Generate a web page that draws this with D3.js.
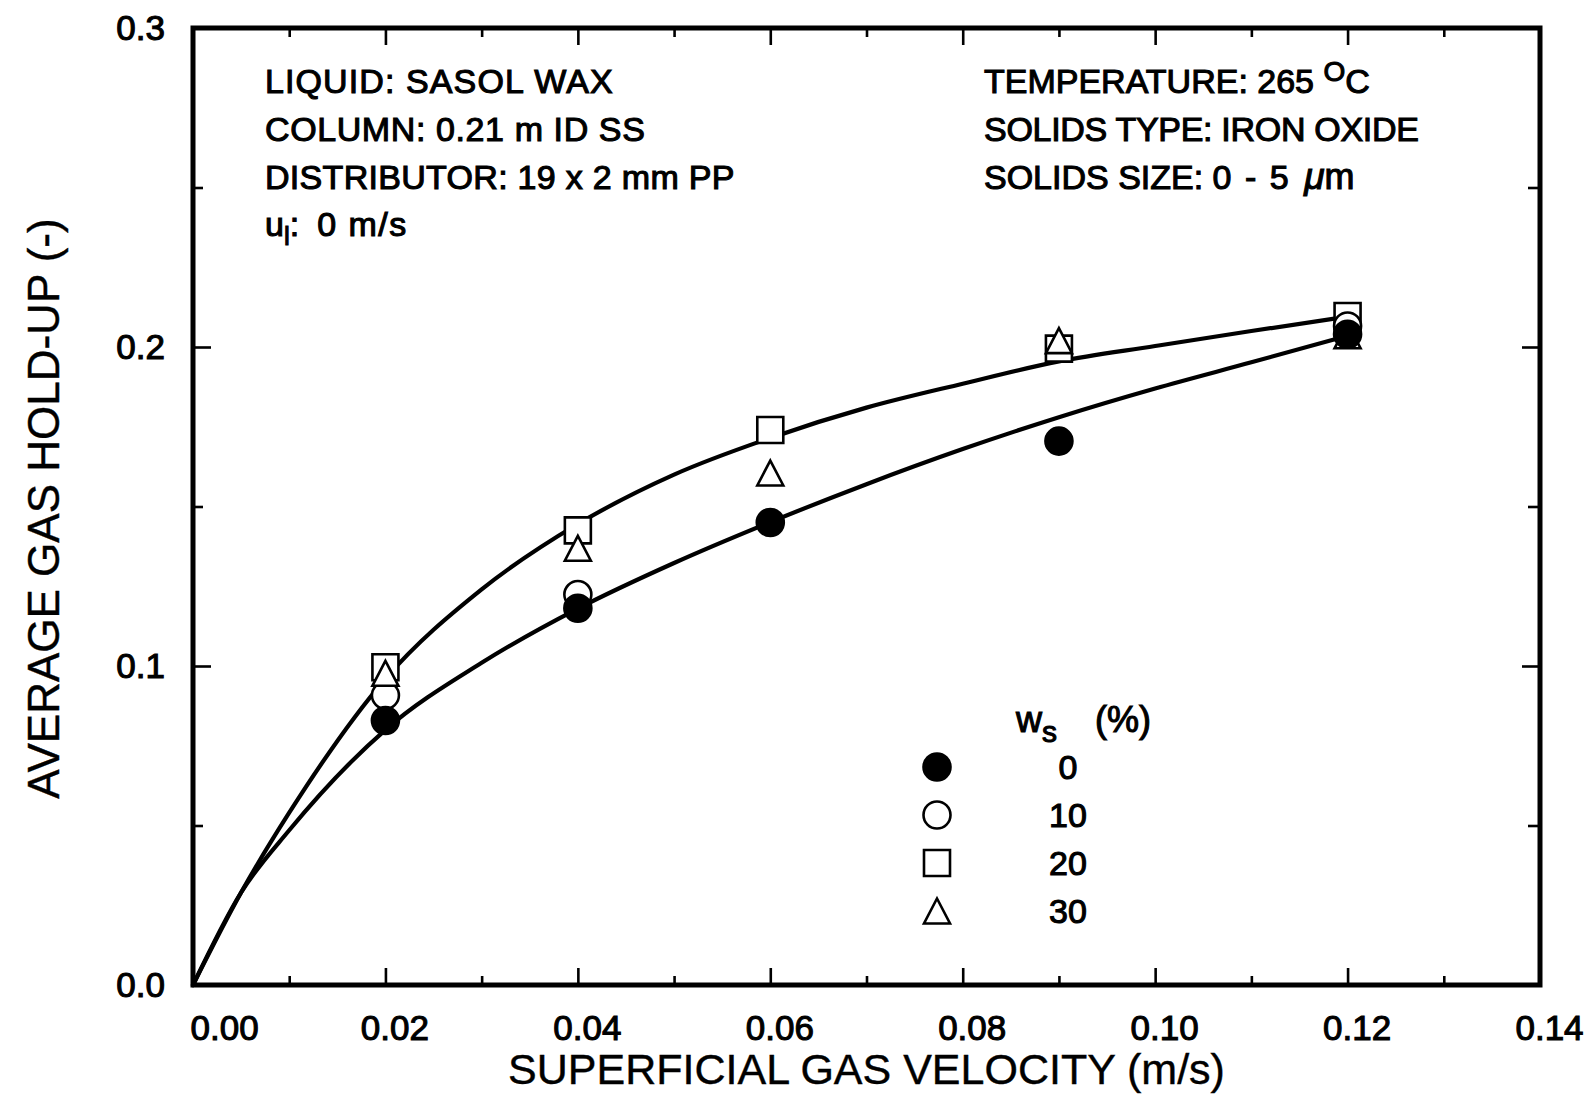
<!DOCTYPE html>
<html>
<head>
<meta charset="utf-8">
<script src="https://cdn.jsdelivr.net/npm/d3@7"></script>
<style>
  html, body { margin: 0; padding: 0; background: #fff; }
  svg { display: block; }
  text { font-family: "Liberation Sans", Arial, Helvetica, sans-serif; fill: #000; }
</style>
</head>
<body>
<svg id="chart" width="1585" height="1102"></svg>
<script>
// ---- data ----
const xTickValues = [0, 0.02, 0.04, 0.06, 0.08, 0.10, 0.12, 0.14];
const xTickLabels = ["0.00", "0.02", "0.04", "0.06", "0.08", "0.10", "0.12", "0.14"];
const xMinorTicks = [0.01, 0.03, 0.05, 0.07, 0.09, 0.11, 0.13];
const yTickValues = [0, 0.1, 0.2, 0.3];
const yTickLabels = ["0.0", "0.1", "0.2", "0.3"];
const yMinorTicks = [0.05, 0.15, 0.25];

const velocity = [0.02, 0.04, 0.06, 0.09, 0.12];
const holdup0 = [0.0829, 0.1181, 0.1450, 0.1705, 0.2040];   // ws = 0 %
const velocity10 = [0.02, 0.04, 0.12];
const holdup10 = [0.0908, 0.1224, 0.2066];                 // ws = 10 %
const holdup20 = [0.0996, 0.1425, 0.1740, 0.1995, 0.2097]; // ws = 20 %
const holdup30 = [0.0977, 0.1369, 0.1605, 0.2020, 0.2035]; // ws = 30 %

const curveX = [0, 0.005, 0.01, 0.02, 0.03, 0.04, 0.05, 0.06, 0.07, 0.08, 0.09, 0.10, 0.11, 0.12];
const upperCurveY = [0, 0.029, 0.054, 0.096, 0.124, 0.1445, 0.1600, 0.1715, 0.1810, 0.1885, 0.1955, 0.2003, 0.2050, 0.2095];
const lowerCurveY = [0, 0.029, 0.0485, 0.080, 0.101, 0.118, 0.1323, 0.1451, 0.157, 0.168, 0.178, 0.187, 0.1952, 0.2035];

const legendLabels = ["0", "10", "20", "30"];

// ---- layout ----
const svg = d3.select("#chart");
const plotLeft = 193, plotRight = 1540, plotTop = 28, plotBottom = 985;
const x = d3.scaleLinear().domain([0, 0.14]).range([plotLeft, plotRight]);
const y = d3.scaleLinear().domain([0, 0.3]).range([plotBottom, plotTop]);

const MAJOR = 17, MINOR = 9;
const tickFont = 35;
const heavy = 1.1;   // stroke added to glyphs for a heavier print weight

// custom isosceles triangle centred on its bounding box
const triangleType = {
  draw(ctx, size) {
    const w = Math.sqrt(size), h = w * 0.96;
    ctx.moveTo(0, -h / 2);
    ctx.lineTo(w / 2, h / 2);
    ctx.lineTo(-w / 2, h / 2);
    ctx.closePath();
  }
};

// ---- axes ----
function styleAxis(g) {
  g.select(".domain").remove();
  g.selectAll(".tick line").attr("stroke", "#000").attr("stroke-width", 2.6);
}

// bottom
const gx = svg.append("g").attr("transform", `translate(0,${plotBottom})`)
  .call(d3.axisBottom(x).tickValues(xTickValues)
    .tickFormat((d, i) => xTickLabels[i]).tickSizeInner(-MAJOR).tickSizeOuter(0).tickPadding(30))
  .call(styleAxis);
gx.selectAll(".tick text")
  .attr("font-size", tickFont).attr("font-family", "Liberation Sans, Arial, sans-serif")
  .attr("fill", "#000").attr("stroke", "#000").attr("stroke-width", heavy)
  .attr("dx", 9)
  .filter((d, i) => i === 0).attr("text-anchor", "start").attr("dx", -3);
svg.append("g").attr("transform", `translate(0,${plotBottom})`)
  .call(d3.axisBottom(x).tickValues(xMinorTicks).tickFormat("").tickSizeInner(-MINOR).tickSizeOuter(0))
  .call(styleAxis);

// top
svg.append("g").attr("transform", `translate(0,${plotTop})`)
  .call(d3.axisTop(x).tickValues(xTickValues).tickFormat("").tickSizeInner(-MAJOR).tickSizeOuter(0))
  .call(styleAxis);
svg.append("g").attr("transform", `translate(0,${plotTop})`)
  .call(d3.axisTop(x).tickValues(xMinorTicks).tickFormat("").tickSizeInner(-MINOR).tickSizeOuter(0))
  .call(styleAxis);

// left
const gy = svg.append("g").attr("transform", `translate(${plotLeft},0)`)
  .call(d3.axisLeft(y).tickValues(yTickValues)
    .tickFormat((d, i) => yTickLabels[i]).tickSizeInner(-18).tickSizeOuter(0).tickPadding(28))
  .call(styleAxis);
gy.selectAll(".tick text")
  .attr("font-size", tickFont).attr("font-family", "Liberation Sans, Arial, sans-serif")
  .attr("fill", "#000").attr("stroke", "#000").attr("stroke-width", heavy);
svg.append("g").attr("transform", `translate(${plotLeft},0)`)
  .call(d3.axisLeft(y).tickValues(yMinorTicks).tickFormat("").tickSizeInner(-10).tickSizeOuter(0))
  .call(styleAxis);

// right
svg.append("g").attr("transform", `translate(${plotRight},0)`)
  .call(d3.axisRight(y).tickValues(yTickValues).tickFormat("").tickSizeInner(-18).tickSizeOuter(0))
  .call(styleAxis);
svg.append("g").attr("transform", `translate(${plotRight},0)`)
  .call(d3.axisRight(y).tickValues(yMinorTicks).tickFormat("").tickSizeInner(-12).tickSizeOuter(0))
  .call(styleAxis);

// frame
svg.append("rect")
  .attr("x", plotLeft).attr("y", plotTop)
  .attr("width", plotRight - plotLeft).attr("height", plotBottom - plotTop)
  .attr("fill", "none").attr("stroke", "#000").attr("stroke-width", 5);

// ---- axis titles ----
svg.append("text")
  .attr("x", (plotLeft + plotRight) / 2).attr("y", 1084)
  .attr("text-anchor", "middle").attr("font-size", 43)
  .attr("stroke", "#000").attr("stroke-width", 0.4)
  .text("SUPERFICIAL GAS VELOCITY (m/s)");
svg.append("text")
  .attr("transform", `translate(59,${(plotTop + plotBottom) / 2 + 2}) rotate(-90)`)
  .attr("text-anchor", "middle").attr("font-size", 44)
  .attr("stroke", "#000").attr("stroke-width", 0.4)
  .text("AVERAGE GAS HOLD-UP (-)");

// ---- fitted curves ----
const line = d3.line()
  .x(d => x(d[0])).y(d => y(d[1]))
  .curve(d3.curveMonotoneX);
[upperCurveY, lowerCurveY].forEach(ys => {
  svg.append("path")
    .datum(curveX.map((v, i) => [v, ys[i]]))
    .attr("d", line)
    .attr("fill", "none").attr("stroke", "#000")
    .attr("stroke-width", 4.2).attr("stroke-linecap", "round");
});

// ---- markers ----
const R = 13.5;
const symCircle = d3.symbol().type(d3.symbolCircle).size(Math.PI * R * R);
const symSquare = d3.symbol().type(d3.symbolSquare).size(26 * 26);
const symTri = d3.symbol().type(triangleType).size(26 * 26);

function drawSeries(xs, ys, sym, fill) {
  svg.append("g").selectAll("path")
    .data(xs.map((v, i) => [v, ys[i]]))
    .join("path")
    .attr("transform", d => `translate(${x(d[0])},${y(d[1])})`)
    .attr("d", sym)
    .attr("fill", fill)
    .attr("stroke", "#000").attr("stroke-width", 2.6);
}
drawSeries(velocity, holdup20, symSquare, "#fff");
drawSeries(velocity10, holdup10, symCircle, "#fff");
drawSeries(velocity, holdup30, symTri, "#fff");
drawSeries(velocity, holdup0, symCircle, "#000");

// ---- annotations ----
const annoFont = 34;
const leftX = 265, rightX = 984;
const lineY = [93, 141, 189, 236];

function anno(xp, yp, spacing) {
  return svg.append("text").attr("x", xp).attr("y", yp)
    .attr("font-size", annoFont).attr("stroke", "#000").attr("stroke-width", heavy)
    .attr("letter-spacing", spacing || 0);
}
anno(leftX, lineY[0], 1.1).text("LIQUID: SASOL WAX");
anno(leftX, lineY[1], 0.6).text("COLUMN: 0.21 m ID SS");
anno(leftX, lineY[2], 0.3).text("DISTRIBUTOR: 19 x 2 mm PP");
const ul = anno(leftX, lineY[3]);
ul.append("tspan").text("u");
ul.append("tspan").attr("font-size", 26).attr("dy", 9).text("l");
ul.append("tspan").attr("dy", -9).text(":");
ul.append("tspan").attr("dx", 18).attr("letter-spacing", 1.5).text("0 m/s");

const t1 = anno(rightX, lineY[0]);
t1.append("tspan").text("TEMPERATURE: 265 ");
t1.append("tspan").attr("font-size", 28).attr("dy", -12).text("O");
t1.append("tspan").attr("dy", 12).text("C");
anno(rightX, lineY[1], -0.3).text("SOLIDS TYPE: IRON OXIDE");
const t3 = anno(rightX, lineY[2]);
t3.append("tspan").text("SOLIDS SIZE: 0 ");
t3.append("tspan").attr("dx", 4).text("-");
t3.append("tspan").attr("dx", 4).text(" 5 ");
t3.append("tspan").attr("dx", 6).attr("font-size", 37).attr("font-style", "italic").text("\u03bc");
t3.append("tspan").attr("font-size", 36).text("m");

// ---- legend ----
const legX = 937, legTextX = 1068, legY0 = 767, legStep = 48;
const head = svg.append("text").attr("x", 1016).attr("y", 732)
  .attr("font-size", 36).attr("stroke", "#000").attr("stroke-width", heavy);
head.append("tspan").text("w");
head.append("tspan").attr("font-size", 30).attr("dy", 10).text("s");
head.append("tspan").attr("x", 1095).attr("dy", -10).text("(%)");

const legendSyms = [
  { sym: symCircle, fill: "#000" },
  { sym: symCircle, fill: "#fff" },
  { sym: symSquare, fill: "#fff" },
  { sym: symTri, fill: "#fff" }
];
const leg = svg.append("g").selectAll("g")
  .data(legendLabels)
  .join("g")
  .attr("transform", (d, i) => `translate(0,${legY0 + i * legStep})`);
leg.append("path")
  .attr("transform", `translate(${legX},0)`)
  .attr("d", (d, i) => legendSyms[i].sym())
  .attr("fill", (d, i) => legendSyms[i].fill)
  .attr("stroke", "#000").attr("stroke-width", 2.6);
leg.append("text")
  .attr("x", legTextX).attr("dy", "0.35em")
  .attr("text-anchor", "middle").attr("font-size", 34)
  .attr("stroke", "#000").attr("stroke-width", heavy)
  .text(d => d);
</script>
</body>
</html>
